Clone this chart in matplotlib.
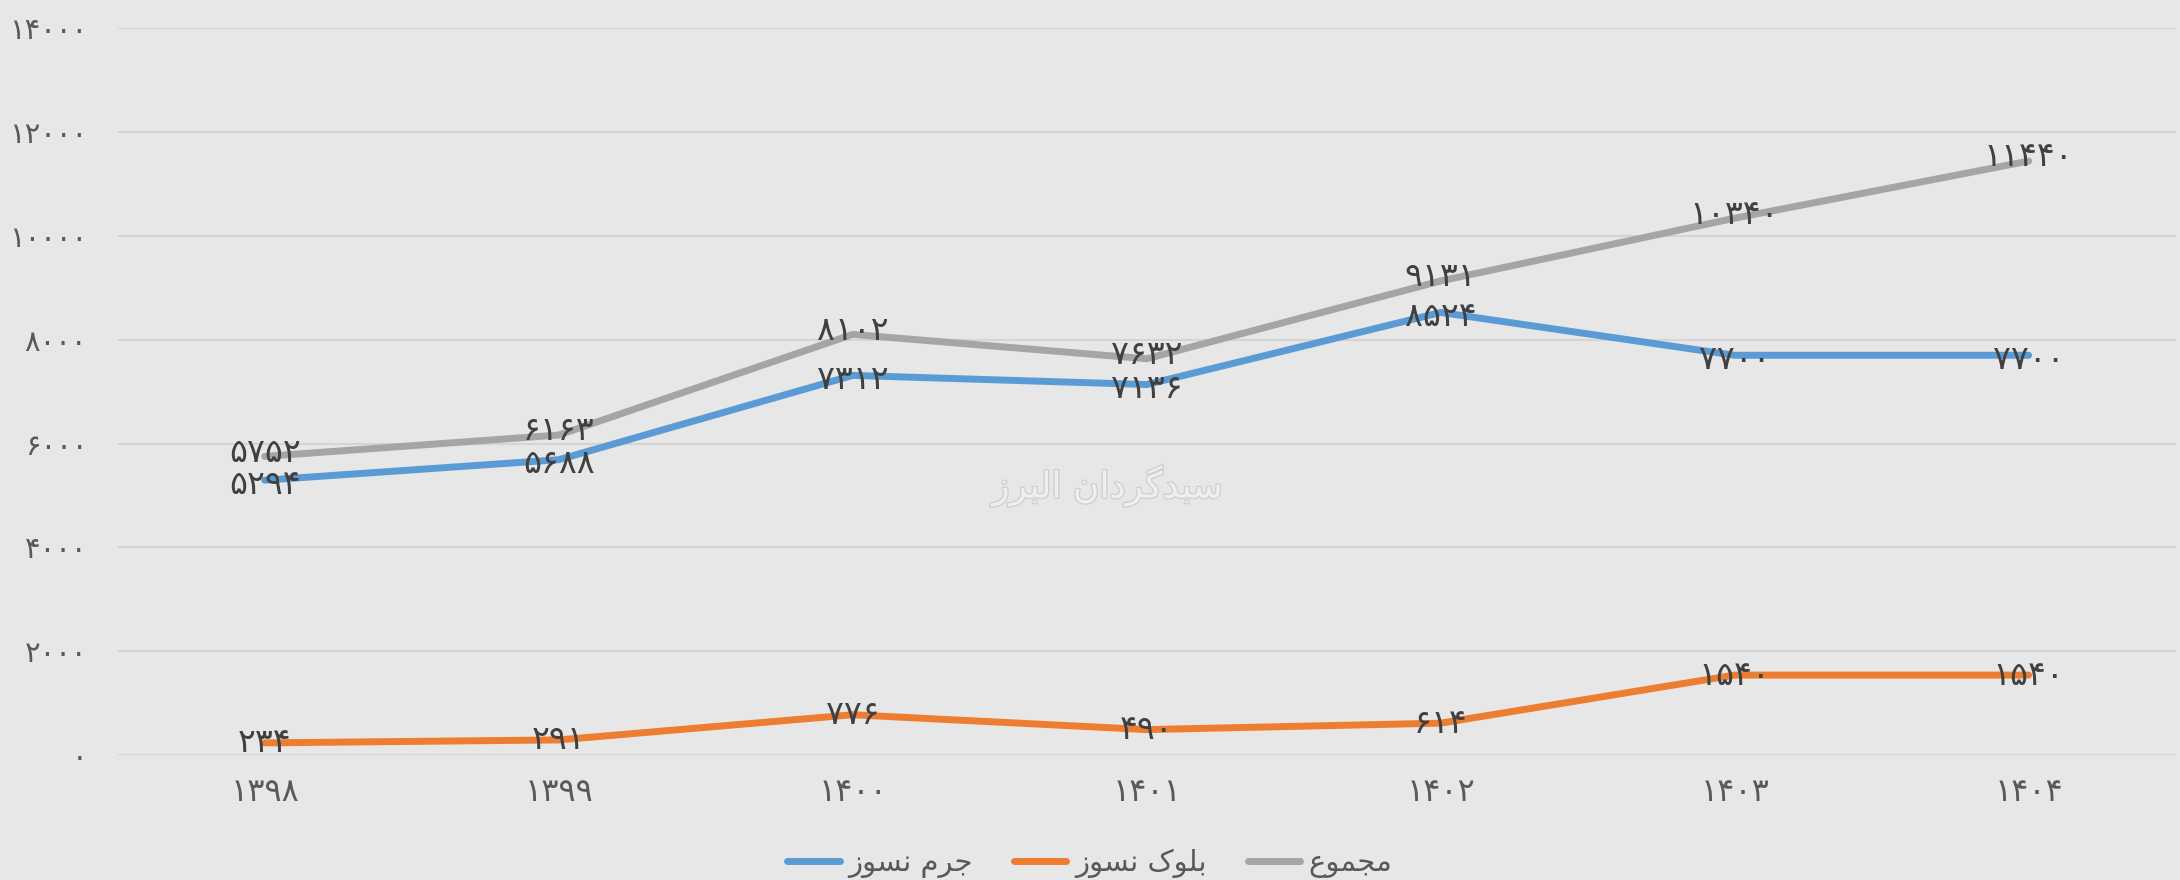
import matplotlib
matplotlib.use("Agg")
import matplotlib.pyplot as plt
import matplotlib.patheffects as pe

# داده ها
years = ["1398", "1399", "1400", "1401", "1402", "1403", "1404"]
jerm = [5294, 5688, 7312, 7136, 8524, 7700, 7700]
blook = [234, 291, 776, 490, 614, 1540, 1540]
majmoo = [5752, 6163, 8102, 7632, 9131, 10340, 11440]
names = ["جرم نسوز", "بلوک نسوز", "مجموع"]
colors = ["#5B9BD5", "#ED7D31", "#A5A5A5"]
yticks = [0, 2000, 4000, 6000, 8000, 10000, 12000, 14000]
watermark = "سبدگردان البرز"

# forms: isolated, final, initial, medial
FORMS = {
    "ا": ("\uFE8D", "\uFE8E", None, None),
    "ب": ("\uFE8F", "\uFE90", "\uFE91", "\uFE92"),
    "ج": ("\uFE9D", "\uFE9E", "\uFE9F", "\uFEA0"),
    "د": ("\uFEA9", "\uFEAA", None, None),
    "ر": ("\uFEAD", "\uFEAE", None, None),
    "ز": ("\uFEAF", "\uFEB0", None, None),
    "س": ("\uFEB1", "\uFEB2", "\uFEB3", "\uFEB4"),
    "ع": ("\uFEC9", "\uFECA", "\uFECB", "\uFECC"),
    "ل": ("\uFEDD", "\uFEDE", "\uFEDF", "\uFEE0"),
    "م": ("\uFEE1", "\uFEE2", "\uFEE3", "\uFEE4"),
    "ن": ("\uFEE5", "\uFEE6", "\uFEE7", "\uFEE8"),
    "و": ("\uFEED", "\uFEEE", None, None),
    "ک": ("\uFB8E", "\uFB8F", "\uFB90", "\uFB91"),
    "گ": ("\uFB92", "\uFB93", "\uFB94", "\uFB95"),
}


def shape(s):
    out = []
    for i, ch in enumerate(s):
        if ch not in FORMS:
            out.append(ch)
            continue
        prev = s[i - 1] if i > 0 else None
        nxt = s[i + 1] if i + 1 < len(s) else None
        join_prev = prev in FORMS and FORMS[prev][2] is not None
        join_next = nxt in FORMS and FORMS[ch][2] is not None
        iso, fin, ini, med = FORMS[ch]
        if join_prev and join_next:
            out.append(med)
        elif join_prev:
            out.append(fin)
        elif join_next:
            out.append(ini)
        else:
            out.append(iso)
    return "".join(out)[::-1]


fa_digits = str.maketrans("0123456789", "۰۱۲۳۴۵۶۷۸۹")


def fa(n):
    return str(n).translate(fa_digits)


plt.rcParams["font.family"] = ["DejaVu Sans"]
bg = "#E7E7E7"
txt = "#404040"

fig = plt.figure(figsize=(21.8, 8.8), dpi=100, facecolor=bg)
ax = fig.add_axes([0.054, 0.142, 0.944, 0.826], facecolor=bg)

x = list(range(len(years)))
series = [jerm, blook, majmoo]
nudge = [-3, 0, 3]  # برچسب ها کمی جدا شوند
for vals, name, c, dy in zip(series, names, colors, nudge):
    ax.plot(x, vals, color=c, lw=5, solid_capstyle="round", solid_joinstyle="round",
            label=shape(name), zorder=3)
    for xi, v in zip(x, vals):
        ax.annotate(fa(v), (xi, v), xytext=(0, dy), textcoords="offset points",
                    ha="center", va="center", fontsize=24, color=txt, zorder=4)

ax.set_xlim(-0.5, len(years) - 0.5)
ax.set_ylim(0, 14000)
ax.set_yticks(yticks)
ax.set_yticklabels([fa(t) for t in yticks], fontsize=21, color="#595959")
ax.set_xticks(x)
ax.set_xticklabels([fa(y) for y in years], fontsize=23, color="#595959")
ax.tick_params(length=0, pad=22)
ax.tick_params(axis="x", pad=16)
ax.grid(axis="y", color="#D4D4D4", lw=1.5, zorder=0)
for sp in ax.spines.values():
    sp.set_visible(False)

ax.text(0.481, 0.37, shape(watermark), transform=ax.transAxes, ha="center", va="center",
        fontsize=26, color="#EFEFEF", zorder=2,
        path_effects=[pe.withStroke(linewidth=2, foreground="#D0D0D0")])

leg = fig.legend(loc="lower center", ncol=3, bbox_to_anchor=(0.5, -0.028), frameon=False,
                 fontsize=21, handlelength=1.8, columnspacing=1.4, handletextpad=0.3)
for t in leg.get_texts():
    t.set_color("#595959")

fig.savefig("out.png", dpi=100, facecolor=bg)
